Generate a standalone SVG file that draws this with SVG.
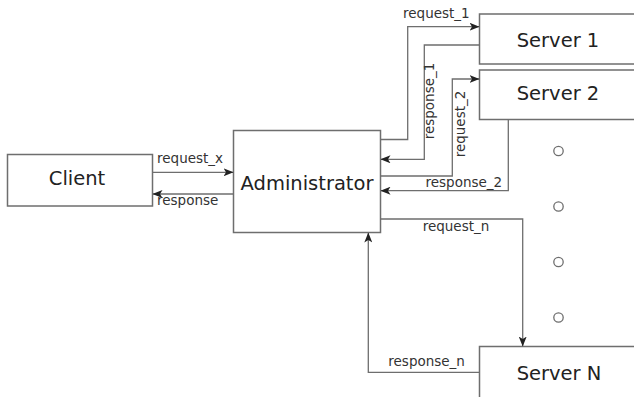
<svg xmlns="http://www.w3.org/2000/svg" width="634" height="397" viewBox="0 0 634 397">
  <style>
    .box { fill: #ffffff; stroke: #6e6e6e; stroke-width: 1.5; }
    .wire { fill: none; stroke: #6e6e6e; stroke-width: 1.3; }
    .dot { fill: #ffffff; stroke: #6e6e6e; stroke-width: 1.3; }
    .title { font-family: "DejaVu Sans", sans-serif; font-size: 19.5px; fill: #222222; text-anchor: middle; }
    .label { font-family: "DejaVu Sans", sans-serif; font-size: 13.5px; fill: #333333; }
  </style>
  <defs>
    <marker id="arrow" viewBox="0 0 10 8" refX="10" refY="4" markerWidth="10" markerHeight="8" markerUnits="userSpaceOnUse" orient="auto">
      <path d="M0,0 L10,4 L0,8 L2.5,4 Z" fill="#222222"/>
    </marker>
  </defs>
  <rect width="634" height="397" fill="#ffffff"/>

  <!-- nodes -->
  <g id="client">
    <rect class="box" x="7.5" y="154.5" width="145" height="51.5"/>
    <text class="title" x="77" y="185">Client</text>
  </g>
  <g id="administrator">
    <rect class="box" x="233.5" y="130.5" width="147" height="102"/>
    <text class="title" x="307" y="190">Administrator</text>
  </g>
  <g id="server1">
    <rect class="box" x="479.5" y="14" width="165" height="50"/>
    <text class="title" x="558" y="47">Server 1</text>
  </g>
  <g id="server2">
    <rect class="box" x="479.5" y="70" width="165" height="49.5"/>
    <text class="title" x="558" y="100">Server 2</text>
  </g>
  <g id="serverN">
    <rect class="box" x="479.5" y="346.5" width="165" height="70"/>
    <text class="title" x="559" y="380">Server N</text>
  </g>
  <g id="ellipsis">
    <circle class="dot" cx="558.5" cy="151" r="4.7"/>
    <circle class="dot" cx="558.5" cy="206.5" r="4.7"/>
    <circle class="dot" cx="558.5" cy="262" r="4.7"/>
    <circle class="dot" cx="558.5" cy="317.5" r="4.7"/>
  </g>

  <!-- connectors -->
  <g id="connectors">
    <path class="wire" d="M152.5,172.3 L233.5,172.3" marker-end="url(#arrow)"/>
    <path class="wire" d="M233.5,194 L152.5,194" marker-end="url(#arrow)"/>
    <path class="wire" d="M380.5,139.5 L407.7,139.5 L407.7,26.7 L479.5,26.7" marker-end="url(#arrow)"/>
    <path class="wire" d="M479.5,45 L424.3,45 L424.3,159.3 L380.5,159.3" marker-end="url(#arrow)"/>
    <path class="wire" d="M380.5,176 L452.3,176 L452.3,79 L479.5,79" marker-end="url(#arrow)"/>
    <path class="wire" d="M508.3,119.5 L508.3,190.7 L380.5,190.7" marker-end="url(#arrow)"/>
    <path class="wire" d="M380.5,219 L522.7,219 L522.7,346.5" marker-end="url(#arrow)"/>
    <path class="wire" d="M479.5,372.3 L368.3,372.3 L368.3,232.5" marker-end="url(#arrow)"/>

    <text class="label" x="157" y="163">request_x</text>
    <text class="label" x="157" y="205">response</text>
    <text class="label" x="403" y="18">request_1</text>
    <text class="label" text-anchor="middle" transform="translate(433.5,101) rotate(-90)">response_1</text>
    <text class="label" text-anchor="middle" transform="translate(464.5,124) rotate(-90)">request_2</text>
    <text class="label" x="425.5" y="186.5">response_2</text>
    <text class="label" x="422.7" y="230.5">request_n</text>
    <text class="label" x="388.3" y="365.5">response_n</text>
  </g>
</svg>
